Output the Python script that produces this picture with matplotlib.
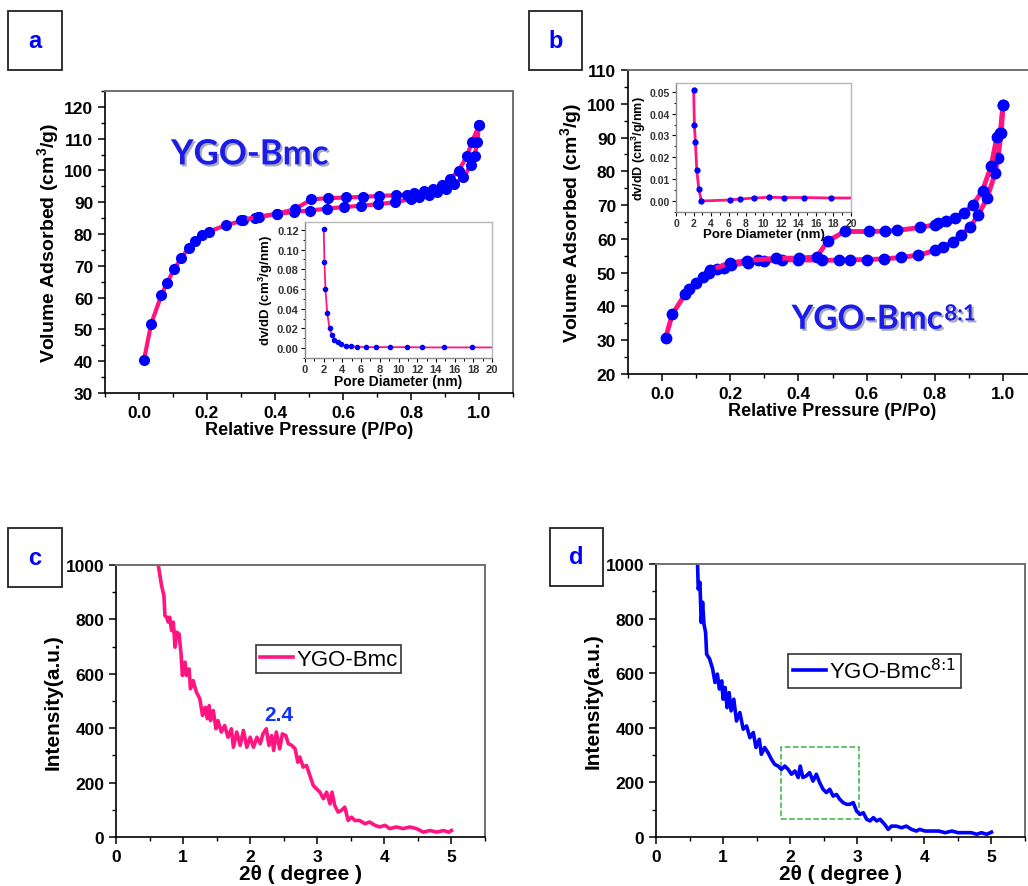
import matplotlib
matplotlib.use("Agg")
import matplotlib.pyplot as plt
import matplotlib.patheffects as pe
from matplotlib.patches import Rectangle
from matplotlib.ticker import MultipleLocator

plt.rcParams['font.family'] = ['Liberation Sans', 'DejaVu Sans']
plt.rcParams['mathtext.default'] = 'regular'

PINK = '#ff1480'
BLUE = '#0000ff'
TEXTBLUE = '#1c1ce6'

# ---- panel a: N2 isotherm YGO-Bmc ----
a_ads_x = [0.015, 0.036, 0.066, 0.082, 0.103, 0.125, 0.146, 0.165, 0.186, 0.206, 0.256,
           0.307, 0.340, 0.353, 0.405, 0.456, 0.503, 0.553, 0.603, 0.652, 0.703, 0.752,
           0.800, 0.823, 0.853, 0.876, 0.904, 0.927, 0.954, 0.977, 0.987, 0.995, 1.0]
a_ads_y = [40.5, 51.8, 60.8, 64.5, 68.9, 72.5, 75.6, 77.7, 79.6, 80.8, 82.8,
           84.3, 85.0, 85.3, 86.3, 87.0, 87.4, 88.0, 88.5, 88.9, 89.4, 90.0,
           91.0, 91.6, 92.3, 93.2, 94.3, 95.8, 97.8, 101.8, 104.4, 109.1, 114.2]
a_des_x = [1.0, 0.98, 0.964, 0.94, 0.914, 0.89, 0.865, 0.837, 0.81, 0.787, 0.755,
           0.707, 0.66, 0.608, 0.556, 0.507, 0.458, 0.405, 0.35, 0.30]
a_des_y = [114.2, 109.1, 104.4, 99.9, 97.3, 95.4, 94.1, 93.4, 92.9, 92.4, 92.2,
           92.0, 91.7, 91.5, 91.3, 90.9, 87.8, 86.4, 85.4, 84.4]

# inset a: pore size distribution
a_psd_x = [2.0, 2.08, 2.19, 2.37, 2.62, 2.87, 3.15, 3.5, 3.87, 4.34, 4.87, 5.56,
           6.49, 7.56, 9.14, 10.93, 12.54, 14.87, 17.9, 20.0]
a_psd_y = [0.121, 0.087, 0.0595, 0.036, 0.0205, 0.013, 0.0087, 0.0057, 0.0037, 0.0024,
           0.0017, 0.0013, 0.0010, 0.0010, 0.0010, 0.0010, 0.0007, 0.0007, 0.0007, 0.0007]

# ---- panel b: N2 isotherm YGO-Bmc 8:1 ----
b_ads_x = [0.01, 0.03, 0.067, 0.08, 0.10, 0.12, 0.139, 0.162, 0.181, 0.202, 0.251,
           0.282, 0.30, 0.351, 0.40, 0.47, 0.52, 0.551, 0.602, 0.652, 0.70, 0.752,
           0.802, 0.824, 0.853, 0.878, 0.904, 0.928, 0.953, 0.977, 0.985, 0.995, 1.0]
b_ads_y = [30.6, 37.7, 43.6, 45.2, 47.0, 48.6, 50.0, 51.1, 51.5, 52.3, 52.9,
           53.7, 53.5, 53.8, 53.8, 53.7, 53.7, 53.8, 53.9, 54.1, 54.5, 55.2,
           56.6, 57.5, 59.2, 61.2, 63.6, 67.2, 72.0, 79.4, 83.9, 91.4, 99.7]
b_des_x = [1.0, 0.992, 0.982, 0.965, 0.94, 0.912, 0.886, 0.86, 0.833, 0.81, 0.80,
           0.757, 0.688, 0.655, 0.606, 0.536, 0.486, 0.454, 0.402, 0.334, 0.25, 0.20, 0.14]
b_des_y = [99.7, 91.4, 90.1, 81.5, 74.3, 70.1, 67.8, 66.3, 65.3, 64.7, 64.2,
           63.4, 62.5, 62.3, 62.2, 62.2, 59.4, 54.7, 54.3, 54.3, 53.6, 52.9, 50.7]

b_psd_x = [2.02, 2.1, 2.21, 2.37, 2.6, 2.9, 6.15, 7.29, 8.89, 10.65, 12.29, 14.58, 17.67, 20.0]
b_psd_y = [0.0506, 0.0349, 0.0272, 0.0143, 0.0056, 0.0000, 0.0005, 0.0009, 0.0014,
           0.0017, 0.0016, 0.0016, 0.0014, 0.0014]

# ---- panel c: low angle XRD YGO-Bmc ----
c_x = [0.63, 0.68, 0.715, 0.73, 0.755, 0.78, 0.80, 0.83, 0.855, 0.88, 0.905, 0.94, 0.97,
       0.99, 1.03, 1.05, 1.09, 1.11, 1.15, 1.2, 1.25, 1.29, 1.33, 1.36, 1.39, 1.41, 1.45,
       1.49, 1.52, 1.57, 1.62, 1.67, 1.72, 1.75, 1.80, 1.85, 1.90, 1.95, 2.0, 2.05, 2.10,
       2.15, 2.19, 2.24, 2.28, 2.32, 2.35, 2.39, 2.44, 2.48, 2.53, 2.57, 2.62, 2.67, 2.71,
       2.74, 2.79, 2.84, 2.89, 2.94, 2.99, 3.04, 3.09, 3.14, 3.19, 3.22, 3.26, 3.31, 3.36,
       3.41, 3.46, 3.51, 3.56, 3.63, 3.71, 3.78, 3.86, 3.93, 4.01, 4.08, 4.18, 4.28, 4.38,
       4.48, 4.58, 4.68, 4.78, 4.88, 4.96, 5.0]
c_y = [1000, 924, 887, 814, 808, 790, 808, 759, 790, 698, 753, 747, 673,
       594, 643, 594, 618, 545, 575, 532, 508, 447, 477, 435, 483, 428, 465,
       398, 428, 386, 410, 367, 398, 330, 386, 337, 392, 330, 367, 330, 367,
       343, 379, 398, 337, 373, 318, 386, 324, 379, 373, 343, 337, 324, 275,
       294, 257, 263, 226, 190, 177, 165, 141, 165, 122, 165, 116, 92, 98,
       110, 61, 73, 61, 61, 49, 55, 43, 37, 43, 31, 37, 31, 37,
       31, 18, 24, 18, 24, 18, 24]

# ---- panel d: low angle XRD YGO-Bmc 8:1 ----
d_x = [0.62, 0.63, 0.655, 0.675, 0.695, 0.715, 0.74, 0.755, 0.80, 0.845, 0.88, 0.915, 0.945,
       0.98, 1.0, 1.03, 1.06, 1.09, 1.12, 1.16, 1.2, 1.25, 1.30, 1.35, 1.40, 1.45, 1.49,
       1.54, 1.57, 1.62, 1.67, 1.72, 1.77, 1.82, 1.87, 1.92, 1.97, 2.02, 2.07, 2.12, 2.15,
       2.19, 2.24, 2.29, 2.34, 2.39, 2.44, 2.49, 2.54, 2.59, 2.64, 2.69, 2.74, 2.79, 2.84,
       2.89, 2.94, 2.99, 3.04, 3.09, 3.14, 3.19, 3.24, 3.29, 3.34, 3.41, 3.46, 3.51, 3.58,
       3.66, 3.73, 3.81, 3.88, 3.93, 4.01, 4.11, 4.21, 4.31, 4.41, 4.50, 4.60, 4.70, 4.78,
       4.85, 4.93, 5.0]
d_y = [1000, 908, 933, 786, 860, 780, 749, 670, 652, 615, 566, 597, 542,
       572, 505, 548, 474, 529, 462, 505, 425, 456, 395, 407, 364, 383, 328,
       358, 303, 328, 309, 285, 266, 260, 248, 260, 248, 230, 242, 218, 260,
       218, 224, 236, 205, 230, 199, 175, 163, 175, 150, 156, 138, 126, 120,
       120, 126, 95, 83, 89, 65, 59, 71, 59, 65, 46, 28, 40, 40,
       34, 40, 28, 22, 28, 22, 22, 22, 16, 22, 16, 16, 16, 10,
       16, 10, 18]


def style_main(ax, tsize=12.5):
    ax.tick_params(axis='both', which='major', direction='out', length=5, width=1.1,
                   labelsize=tsize, top=False, right=False)
    ax.tick_params(axis='both', which='minor', direction='out', length=3, width=1.0,
                   top=False, right=False)
    for lab in ax.get_xticklabels() + ax.get_yticklabels():
        lab.set_fontweight('bold')
    for s in ['left', 'bottom']:
        ax.spines[s].set_linewidth(1.2)
        ax.spines[s].set_color('black')
    for s in ['top', 'right']:
        ax.spines[s].set_linewidth(1.4)
        ax.spines[s].set_color('#707070')


def style_inset(ax, tsize=7.5):
    ax.tick_params(axis='both', which='major', direction='out', length=3, width=0.8,
                   labelsize=tsize, top=False, right=False, pad=1.5)
    ax.tick_params(axis='both', which='minor', direction='out', length=1.8, width=0.7,
                   top=False, right=False)
    for lab in ax.get_xticklabels() + ax.get_yticklabels():
        lab.set_fontweight('bold')
        lab.set_color('#333333')
    for s in ax.spines.values():
        s.set_color('#b8b8b8')
        s.set_linewidth(1.0)
    ax.spines['left'].set_color('#888888')
    ax.spines['bottom'].set_color('#888888')


def panel_label(fig, x0, y0, x1, y1, letter):
    W, H = 1028.0, 887.0
    rect = Rectangle((x0 / W, 1 - y1 / H), (x1 - x0) / W, (y1 - y0) / H,
                     transform=fig.transFigure, fill=False, edgecolor='#222222', linewidth=1.3)
    fig.add_artist(rect)
    fig.text((x0 + x1) / 2 / W, 1 - (y0 + y1) / 2 / H, letter, ha='center', va='center',
             color=BLUE, fontsize=17, fontweight='bold')


shadow = [pe.withSimplePatchShadow(offset=(1.5, -1.5), shadow_rgbFace='#444466', alpha=0.45)]

fig = plt.figure(figsize=(10.28, 8.87), dpi=100)

# panel a
ax_a = fig.add_axes([0.1021, 0.5558, 0.3969, 0.3405])
ax_a.plot(a_ads_x, a_ads_y, '-o', color=PINK, lw=3, ms=7, mfc=BLUE, mec=BLUE, zorder=3)
ax_a.plot(a_des_x, a_des_y, '-o', color=PINK, lw=3, ms=7, mfc=BLUE, mec=BLUE, zorder=3)
ax_a.set_xlim(-0.1, 1.1)
ax_a.set_ylim(30, 125)
ax_a.xaxis.set_minor_locator(MultipleLocator(0.1))
ax_a.yaxis.set_minor_locator(MultipleLocator(5))
ax_a.set_xticks([0, 0.2, 0.4, 0.6, 0.8, 1.0])
ax_a.set_xticklabels(['0.0', '0.2', '0.4', '0.6', '0.8', '1.0'])
ax_a.set_yticks(range(30, 121, 10))
style_main(ax_a)
ax_a.set_xlabel('Relative Pressure (P/Po)', fontsize=13, fontweight='bold', labelpad=1)
ax_a.set_ylabel('Volume Adsorbed (cm$^3$/g)', fontsize=14, fontweight='bold', labelpad=2)
ax_a.text(0.355, 0.79, 'YGO-Bmc', transform=ax_a.transAxes, ha='center', va='center',
          family=['Lato', 'DejaVu Sans'], fontweight='bold', fontsize=25, color=TEXTBLUE,
          path_effects=shadow)

ax_ai = fig.add_axes([0.2967, 0.5953, 0.1819, 0.1533])
ax_ai.plot(a_psd_x, a_psd_y, '-', color=PINK, lw=1.3, zorder=2)
ax_ai.plot(a_psd_x[:-1], a_psd_y[:-1], 'o', color=BLUE, ms=3, zorder=3)
ax_ai.set_xlim(0, 20)
ax_ai.set_ylim(-0.01, 0.128)
ax_ai.xaxis.set_major_locator(MultipleLocator(2))
ax_ai.xaxis.set_minor_locator(MultipleLocator(1))
ax_ai.set_yticks([0, 0.02, 0.04, 0.06, 0.08, 0.10, 0.12])
ax_ai.set_yticklabels(['0.00', '0.02', '0.04', '0.06', '0.08', '0.10', '0.12'])
ax_ai.yaxis.set_minor_locator(MultipleLocator(0.01))
style_inset(ax_ai, 8)
ax_ai.set_xlabel('Pore Diameter (nm)', fontsize=10, fontweight='bold', labelpad=0)
ax_ai.set_ylabel('dv/dD (cm$^3$/g/nm)', fontsize=9.5, fontweight='bold', labelpad=1)

# panel b
ax_b = fig.add_axes([0.6109, 0.5772, 0.3979, 0.3427])
ax_b.plot(b_ads_x, b_ads_y, '-o', color=PINK, lw=3.5, ms=7.5, mfc=BLUE, mec=BLUE, zorder=3)
ax_b.plot(b_des_x, b_des_y, '-o', color=PINK, lw=3.5, ms=7.5, mfc=BLUE, mec=BLUE, zorder=3)
ax_b.set_xlim(-0.1, 1.1)
ax_b.set_ylim(20, 110)
ax_b.set_xticks([0, 0.2, 0.4, 0.6, 0.8, 1.0])
ax_b.set_xticklabels(['0.0', '0.2', '0.4', '0.6', '0.8', '1.0'])
ax_b.xaxis.set_minor_locator(MultipleLocator(0.1))
ax_b.set_yticks(range(20, 111, 10))
ax_b.yaxis.set_minor_locator(MultipleLocator(5))
style_main(ax_b)
ax_b.spines['right'].set_visible(False)
ax_b.set_xlabel('Relative Pressure (P/Po)', fontsize=13, fontweight='bold', labelpad=1)
ax_b.set_ylabel('Volume Adsorbed (cm$^3$/g)', fontsize=14, fontweight='bold', labelpad=2)
t_b = ax_b.text(0.40, 0.18, 'YGO-Bmc', transform=ax_b.transAxes, ha='left',
                va='center', family=['Lato', 'DejaVu Sans'], fontweight='bold', fontsize=24,
                color=TEXTBLUE, path_effects=shadow)
ax_b.annotate('8:1', xy=(1, 1), xycoords=t_b, xytext=(1, 1), textcoords='offset points',
              ha='left', va='top', family=['Lato', 'DejaVu Sans'], fontweight='bold',
              fontsize=16, color=TEXTBLUE, path_effects=shadow)

ax_bi = fig.add_axes([0.6576, 0.7599, 0.1702, 0.1454])
ax_bi.plot(b_psd_x, b_psd_y, '-', color=PINK, lw=2, zorder=2)
ax_bi.plot(b_psd_x[:-1], b_psd_y[:-1], 'o', color=BLUE, ms=3.5, zorder=3)
ax_bi.set_xlim(0, 20)
ax_bi.set_ylim(-0.005, 0.054)
ax_bi.xaxis.set_major_locator(MultipleLocator(2))
ax_bi.xaxis.set_minor_locator(MultipleLocator(1))
ax_bi.set_yticks([0, 0.01, 0.02, 0.03, 0.04, 0.05])
ax_bi.set_yticklabels(['0.00', '0.01', '0.02', '0.03', '0.04', '0.05'])
ax_bi.yaxis.set_minor_locator(MultipleLocator(0.005))
style_inset(ax_bi, 7.5)
ax_bi.set_xlabel('Pore Diameter (nm)', fontsize=9.5, fontweight='bold', labelpad=0)
ax_bi.set_ylabel('dv/dD (cm$^3$/g/nm)', fontsize=9, fontweight='bold', labelpad=1)

# panel c
ax_c = fig.add_axes([0.1128, 0.0552, 0.359, 0.3067])
ax_c.plot(c_x, c_y, '-', color=PINK, lw=2.6, label='YGO-Bmc')
ax_c.set_xlim(0, 5.5)
ax_c.set_ylim(0, 1000)
ax_c.xaxis.set_major_locator(MultipleLocator(1))
ax_c.xaxis.set_minor_locator(MultipleLocator(0.5))
ax_c.yaxis.set_major_locator(MultipleLocator(200))
ax_c.yaxis.set_minor_locator(MultipleLocator(100))
style_main(ax_c)
ax_c.set_xlabel('2θ ( degree )', fontsize=15, fontweight='bold', labelpad=0)
ax_c.set_ylabel('Intensity(a.u.)', fontsize=15, fontweight='bold', labelpad=2)
ax_c.text(2.42, 449, '2.4', ha='center', va='center', color='#1030ff', fontsize=15,
          fontweight='bold')
leg = ax_c.legend(loc='upper left', bbox_to_anchor=(0.38, 0.705), fontsize=16,
                  handlelength=1.5, handletextpad=0.15, borderpad=0.15, borderaxespad=0,
                  fancybox=False, framealpha=1)
leg.get_frame().set_edgecolor('#333333')
leg.get_frame().set_linewidth(1.2)

# panel d
ax_d = fig.add_axes([0.6381, 0.0552, 0.359, 0.3078])
ax_d.plot(d_x, d_y, '-', color=BLUE, lw=2.6, label=r'YGO-Bmc$^{\text{8:1}}$')
ax_d.set_xlim(0, 5.5)
ax_d.set_ylim(0, 1000)
ax_d.xaxis.set_major_locator(MultipleLocator(1))
ax_d.xaxis.set_minor_locator(MultipleLocator(0.5))
ax_d.yaxis.set_major_locator(MultipleLocator(200))
ax_d.yaxis.set_minor_locator(MultipleLocator(100))
style_main(ax_d)
ax_d.set_xlabel('2θ ( degree )', fontsize=15, fontweight='bold', labelpad=0)
ax_d.set_ylabel('Intensity(a.u.)', fontsize=15, fontweight='bold', labelpad=2)
ax_d.add_patch(Rectangle((1.87, 65), 1.16, 263, fill=False, edgecolor='#3cb043',
                         linestyle='--', linewidth=1.1))
leg = ax_d.legend(loc='upper left', bbox_to_anchor=(0.358, 0.672), fontsize=16,
                  handlelength=1.5, handletextpad=0.15, borderpad=0.2, borderaxespad=0,
                  fancybox=False, framealpha=1)
leg.get_frame().set_edgecolor('#333333')
leg.get_frame().set_linewidth(1.2)

panel_label(fig, 8, 12, 62, 71, 'a')
panel_label(fig, 529, 12, 582, 71, 'b')
panel_label(fig, 8, 529, 62, 588, 'c')
panel_label(fig, 550, 529, 603, 587, 'd')

fig.savefig('out.png', dpi=100)
